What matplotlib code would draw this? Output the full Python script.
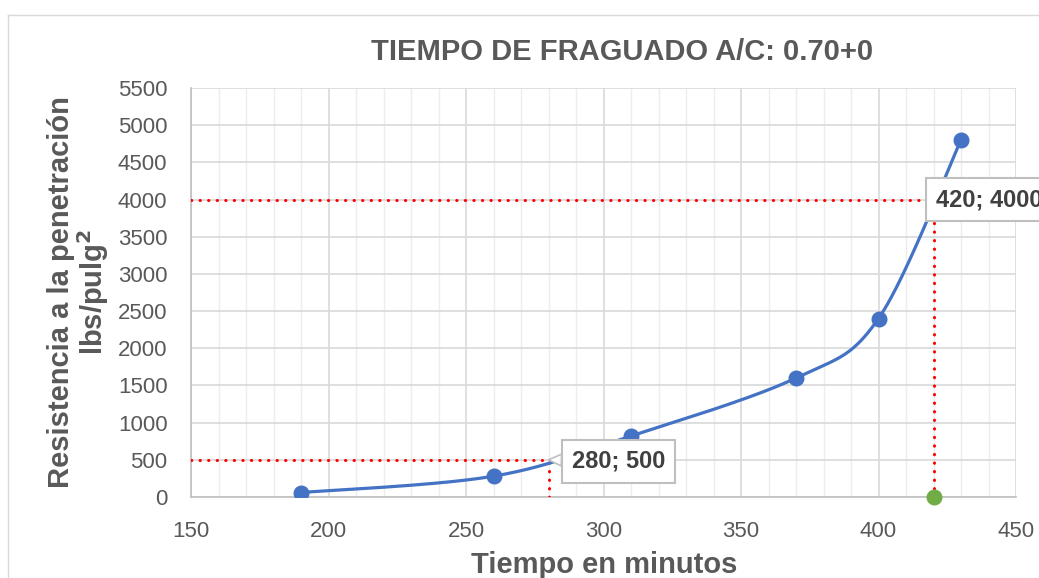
import numpy as np
import matplotlib
matplotlib.use("Agg")
import matplotlib.pyplot as plt
from matplotlib.lines import Line2D

plt.rcParams['font.family'] = ['Liberation Sans', 'DejaVu Sans']

# Setting-time data (minutes vs penetration resistance)
tiempo = [190, 260, 310, 370, 400, 430]
resistencia = [60, 280, 820, 1600, 2400, 4800]

# Initial / final set markers
inicial = (280, 500)
final = (420, 4000)
label_inicial = "280; 500"
label_final = "420; 4000"

title = "TIEMPO DE FRAGUADO A/C: 0.70+0"
xlabel = "Tiempo en minutos"
ylabel = "Resistencia a la penetración\nlbs/pulg$^{\\mathbf{2}}$"

xticks = [150, 200, 250, 300, 350, 400, 450]
yticks = list(range(0, 5501, 500))

BLUE = "#4472C4"
GREEN = "#70AD47"
RED = "#FF0000"
TXT = "#595959"
DOTS = (0, (0.1, 2.7))


def smooth_bezier(x, y, n=60):
    """Cubic Bezier smoothing through every point (spreadsheet-style)."""
    P = np.column_stack([x, y]).astype(float)
    ext = np.vstack([P[0], P, P[-1]])
    out = []
    t = np.linspace(0, 1, n)[:, None]
    for i in range(len(P) - 1):
        p0, p1 = P[i], P[i + 1]
        c1 = p0 + (ext[i + 2] - ext[i]) / 6.0
        c2 = p1 - (ext[i + 3] - ext[i + 1]) / 6.0
        seg = ((1 - t) ** 3) * p0 + 3 * ((1 - t) ** 2) * t * c1 \
            + 3 * (1 - t) * t ** 2 * c2 + t ** 3 * p1
        out.append(seg if i == 0 else seg[1:])
    seg = np.vstack(out)
    return seg[:, 0], seg[:, 1]


fig = plt.figure(figsize=(10.39, 5.78), dpi=100)
ax = fig.add_axes([191 / 1039, 81 / 578, 825 / 1039, 409 / 578])

# chart-area frame
fig.add_artist(Line2D([8 / 1039, 8 / 1039], [0, 1 - 15 / 578],
                      transform=fig.transFigure, color="#D9D9D9", lw=1))
fig.add_artist(Line2D([8 / 1039, 1], [1 - 15 / 578, 1 - 15 / 578],
                      transform=fig.transFigure, color="#D9D9D9", lw=1))

ax.set_xlim(150, 450)
ax.set_ylim(0, 5500)
ax.set_xticks(xticks)
ax.set_yticks(yticks)
ax.set_xticks(np.arange(150, 451, 10), minor=True)
ax.grid(which="minor", axis="x", color="#EDEDED", lw=1)
ax.grid(which="major", axis="both", color="#D9D9D9", lw=1.2)
ax.set_axisbelow(True)
ax.tick_params(which="both", length=0)
ax.tick_params(axis="both", labelsize=16, colors=TXT)
ax.tick_params(axis="y", pad=17)
ax.tick_params(axis="x", pad=17)
for s in ["top", "right"]:
    ax.spines[s].set_visible(False)
for s in ["left", "bottom"]:
    ax.spines[s].set_color("#BFBFBF")
    ax.spines[s].set_linewidth(1.2)

# reference lines
ref = dict(ls=DOTS, color=RED, lw=2.2, zorder=3, dash_capstyle="round")
ax.plot([150, inicial[0]], [inicial[1], inicial[1]], **ref)
ax.plot([inicial[0], inicial[0]], [0, inicial[1]], **ref)
ax.plot([150, final[0]], [final[1], final[1]], **ref)
ax.plot([final[0], final[0]], [0, final[1]], **ref)

# smoothed data curve
sx, sy = smooth_bezier(tiempo, resistencia)
ax.plot(sx, sy, color=BLUE, lw=2.3, zorder=4)
ax.plot(tiempo, resistencia, "o", color=BLUE, ms=10.5, zorder=5)
ax.plot([final[0]], [0], "o", color=GREEN, ms=10.5, zorder=5, clip_on=False)

box = dict(boxstyle="square,pad=0.42", fc="white", ec="#BFBFBF", lw=1.5)
ax.annotate(label_inicial, xy=inicial, xytext=(17, -1), textcoords="offset points",
            ha="left", va="center", fontsize=17, fontweight="bold", color="#404040",
            bbox=box, zorder=6,
            arrowprops=dict(arrowstyle="wedge,tail_width=0.5,shrink_factor=0.5",
                            fc="white", ec="#BFBFBF", lw=1.2, shrinkA=0, shrinkB=0))
ax.annotate(label_final, xy=final, xytext=(2, 0), textcoords="offset points",
            ha="left", va="center", fontsize=17, fontweight="bold", color="#404040",
            bbox=box, zorder=6, annotation_clip=False)

fig.text(622 / 1039, 1 - 52 / 578, title, ha="center", va="center",
         fontsize=21, fontweight="bold", color=TXT)
fig.text(604 / 1039, 1 - 565 / 578, xlabel, ha="center", va="center",
         fontsize=21, fontweight="bold", color=TXT)
fig.text(79 / 1039, 1 - 292 / 578, ylabel, ha="center", va="center", rotation=90,
         fontsize=21, fontweight="bold", color=TXT, linespacing=1.0)

fig.savefig("out.png", dpi=100)
